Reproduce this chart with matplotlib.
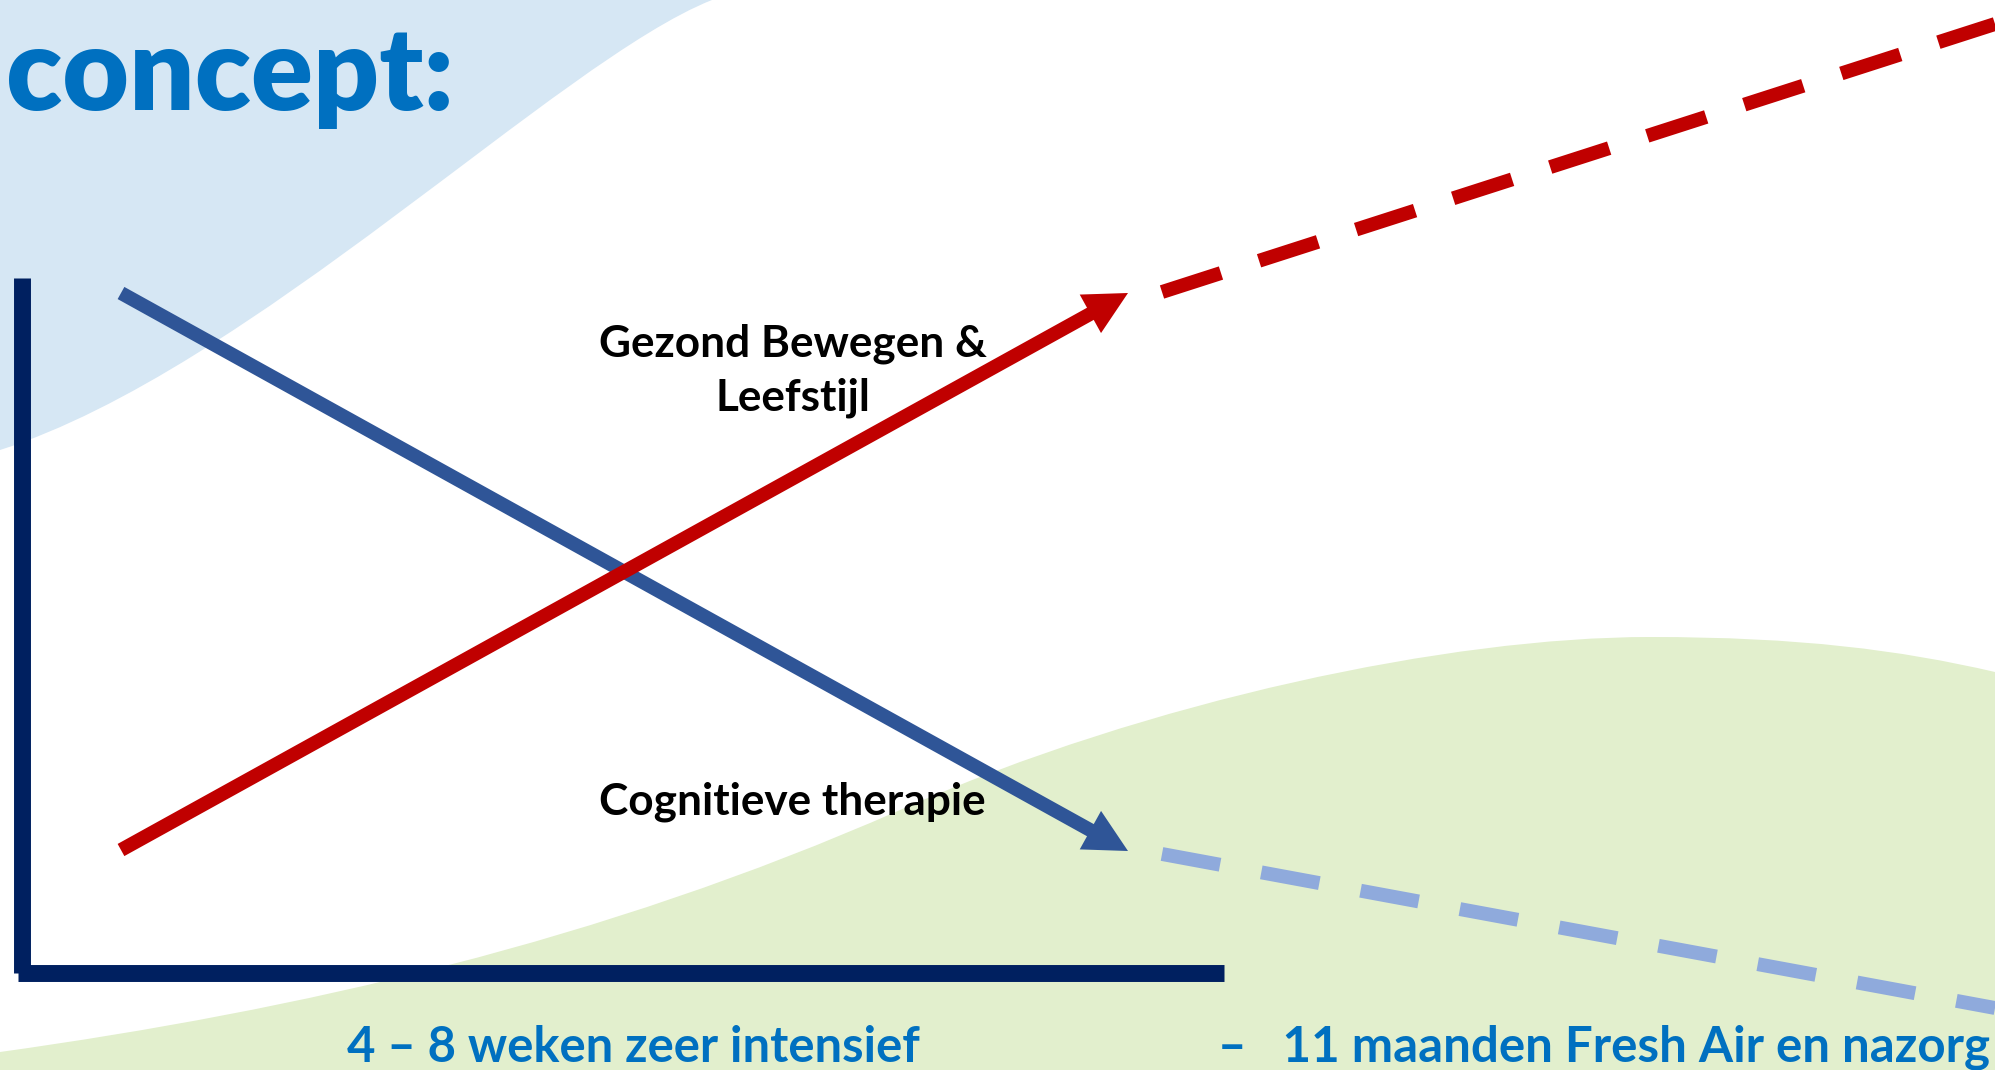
import numpy as np
import matplotlib.pyplot as plt
from matplotlib.path import Path
from matplotlib.patches import PathPatch

# slide is laid out in pixels (1995 x 1070), y going down
W, H = 1995, 1070

# solid trends during the intensive phase
phase_x = [121, 1128]
lifestyle_y = [850, 293]
cognitive_y = [293, 851]

# dashed follow-up (Fresh Air and aftercare)
follow_x = [1162, 1995]
lifestyle_follow_y = [292, 24]
cognitive_follow_y = [854, 1008]

# axes of the sketch
yaxis_x = [21.5, 21.5]
yaxis_y = [278, 973]
xaxis_x = [18, 1224]
xaxis_y = [973, 973]

title = "concept:"
label_lifestyle = ["Gezond Bewegen &", "Leefstijl"]
label_cognitive = "Cognitieve therapie"
phase1_text = "4 – 8 weken zeer intensief"
phase2_text = "–   11 maanden Fresh Air en nazorg"

RED = "#C00000"
BLUE = "#2F5597"
LIGHTBLUE = "#8FAADC"
NAVY = "#002060"
TXTBLUE = "#0070C0"

fig = plt.figure(figsize=(W / 100, H / 100), dpi=100)
ax = fig.add_axes([0, 0, 1, 1])
ax.set_xlim(0, W)
ax.set_ylim(H, 0)
ax.axis("off")

# background blobs
blue_blob = Path([(0, 0), (712, 0), (560, 60), (250, 370), (0, 450), (0, 0)],
                 [Path.MOVETO, Path.LINETO, Path.CURVE4, Path.CURVE4, Path.CURVE4, Path.CLOSEPOLY])
ax.add_patch(PathPatch(blue_blob, fc="#D6E7F4", ec="none", zorder=0))

green_blob = Path([(0, 1052),
                   (300, 1010), (600, 942), (900, 810),
                   (1150, 700), (1450, 637), (1650, 637),
                   (1800, 637), (1900, 650), (1995, 672),
                   (1995, H), (0, H), (0, 1052)],
                  [Path.MOVETO,
                   Path.CURVE4, Path.CURVE4, Path.CURVE4,
                   Path.CURVE4, Path.CURVE4, Path.CURVE4,
                   Path.CURVE4, Path.CURVE4, Path.CURVE4,
                   Path.LINETO, Path.LINETO, Path.CLOSEPOLY])
ax.add_patch(PathPatch(green_blob, fc="#E2EFCD", ec="none", zorder=0))

# axes
ax.plot(yaxis_x, yaxis_y, color=NAVY, lw=12.2, solid_capstyle="butt", zorder=2)
ax.plot(xaxis_x, xaxis_y, color=NAVY, lw=12.2, solid_capstyle="butt", zorder=2)


def arrow(xs, ys, color, head_len=43, half_w=22):
    p0 = np.array([xs[0], ys[0]], float)
    p1 = np.array([xs[1], ys[1]], float)
    d = (p1 - p0) / np.linalg.norm(p1 - p0)
    n = np.array([-d[1], d[0]])
    base = p1 - d * head_len
    ax.plot([p0[0], base[0] + d[0] * 2], [p0[1], base[1] + d[1] * 2],
            color=color, lw=10, solid_capstyle="butt", zorder=3)
    tri = np.array([p1, base + n * half_w, base - n * half_w])
    ax.fill(tri[:, 0], tri[:, 1], color=color, lw=0, zorder=3)


arrow(phase_x, cognitive_y, BLUE)
arrow(phase_x, lifestyle_y, RED)

ax.plot(follow_x, lifestyle_follow_y, color=RED, lw=10, dashes=(4.46, 2.88),
        dash_capstyle="butt", zorder=3)
ax.plot(follow_x, cognitive_follow_y, color=LIGHTBLUE, lw=10, dashes=(4.25, 3.02),
        dash_capstyle="butt", zorder=3)

# texts
ax.text(6, 110, title, fontsize=83, fontweight="heavy", family="Lato",
        color=TXTBLUE, ha="left", va="baseline", zorder=4)
ax.text(793, 356, label_lifestyle[0], fontsize=31.8, fontweight="bold", family="Lato",
        color="black", ha="center", va="baseline", zorder=4)
ax.text(793, 411, label_lifestyle[1], fontsize=31.8, fontweight="bold", family="Lato",
        color="black", ha="center", va="baseline", zorder=4)
ax.text(792, 815, label_cognitive, fontsize=31.8, fontweight="bold", family="Lato",
        color="black", ha="center", va="baseline", zorder=4)
ax.text(347, 1062, phase1_text, fontsize=35.3, fontweight="bold", family="Lato",
        color=TXTBLUE, ha="left", va="baseline", zorder=4)
ax.text(1218, 1062, phase2_text, fontsize=35.5, fontweight="bold", family="Lato",
        color=TXTBLUE, ha="left", va="baseline", zorder=4)

fig.savefig("out.png", dpi=100)
